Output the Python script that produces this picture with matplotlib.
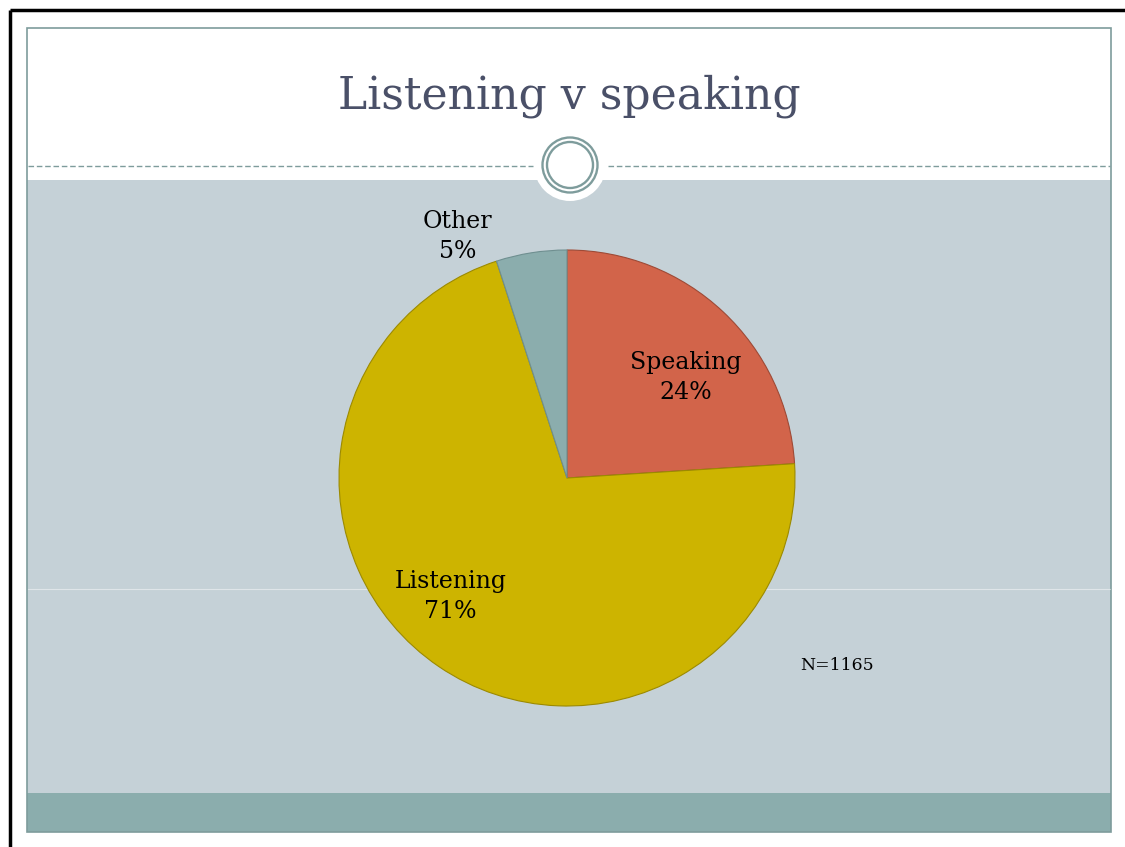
import matplotlib.pyplot as plt
from matplotlib.patches import Rectangle, Circle

# Survey answers
categories = ["Speaking", "Listening", "Other"]
shares = [24, 71, 5]
n_responses = 1165
title = "Listening v speaking"

slice_colors = ["#D2644A", "#CDB400", "#8BADAD"]
edge_colors = ["#9E4A36", "#9C8A00", "#6F8F90"]

W, H = 1125, 847
fig = plt.figure(figsize=(W / 100, H / 100), dpi=100)
fig.patch.set_facecolor("white")

# Slide background drawn in pixel coordinates
bg = fig.add_axes([0, 0, 1, 1])
bg.set_xlim(0, W)
bg.set_ylim(H, 0)
bg.axis("off")

frame_col = "#7E9C9C"
bg.add_patch(Rectangle((27, 180), 1084, 613, facecolor="#C5D1D7", edgecolor="none"))
bg.add_patch(Rectangle((27, 793), 1084, 39, facecolor="#8BADAD", edgecolor="none"))
bg.add_patch(Rectangle((27, 28), 1084, 804, facecolor="none", edgecolor=frame_col, lw=1.2))

# faint rule across the body
bg.plot([28, 1110], [589, 589], color="white", lw=0.8, alpha=0.45)

# dashed divider with a gap for the ornament
bg.plot([28, 533], [166, 166], color=frame_col, lw=1, ls=(0, (4, 2)))
bg.plot([608, 1110], [166, 166], color=frame_col, lw=1, ls=(0, (4, 2)))

# ring ornament
bg.add_patch(Circle((570, 165), 36, facecolor="white", edgecolor="none"))
bg.add_patch(Circle((570, 165), 27.5, facecolor="none", edgecolor=frame_col, lw=1.7))
bg.add_patch(Circle((570, 165), 23, facecolor="none", edgecolor=frame_col, lw=1.7))

# outer black border (left and top)
bg.plot([9.5, 9.5], [847, 10], color="black", lw=2.5, solid_capstyle="butt")
bg.plot([9.5, 1125], [10, 10], color="black", lw=2.5, solid_capstyle="butt")

serif = ["DejaVu Serif"]
bg.text(569, 96, title, ha="center", va="center", fontsize=31.8,
        color="#4A5068", family=serif)
bg.text(800, 665, f"N={n_responses}", ha="left", va="center", fontsize=12.4,
        color="black", family=serif)

# Pie chart
cx, cy, r = 567, 478, 228
ax = fig.add_axes([(cx - r) / W, 1 - (cy + r) / H, 2 * r / W, 2 * r / H])
wedges, _ = ax.pie(shares, colors=slice_colors, startangle=90, counterclock=False,
                   radius=1, wedgeprops=dict(linewidth=0.8))
for w, ec in zip(wedges, edge_colors):
    w.set_edgecolor(ec)
ax.set_xlim(-1, 1)
ax.set_ylim(-1, 1)
ax.axis("off")

label_pos = [(0.52, 0.44), (-0.51, -0.52), (-0.48, 1.06)]
for name, val, (lx, ly) in zip(categories, shares, label_pos):
    ax.text(lx, ly, f"{name}\n{val}%", ha="center", va="center", fontsize=17,
            family=serif, linespacing=1.38, clip_on=False)

fig.savefig("out.png", dpi=100)
